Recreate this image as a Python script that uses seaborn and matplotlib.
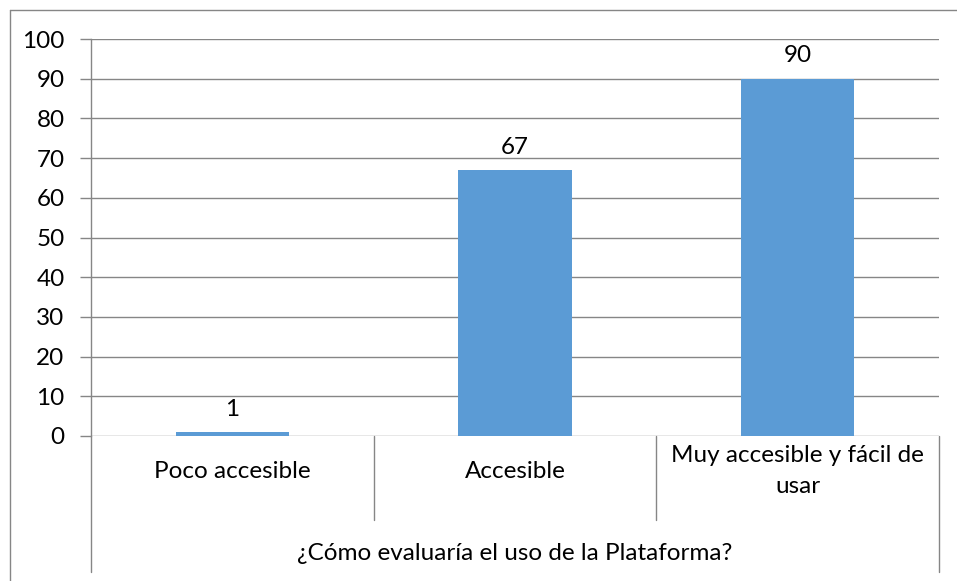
import matplotlib
matplotlib.use("Agg")
import matplotlib.pyplot as plt
import seaborn as sns
import pandas as pd
from matplotlib.lines import Line2D

categories = ["Poco accesible", "Accesible", "Muy accesible y fácil de\nusar"]
values = [1, 67, 90]
group_label = "¿Cómo evaluaría el uso de la Plataforma?"
yticks = [0, 10, 20, 30, 40, 50, 60, 70, 80, 90, 100]

sns.set_theme(style="white")
plt.rcParams["font.family"] = ["Lato", "DejaVu Sans"]

FS = 17.5
W, H = 957, 581
fig = plt.figure(figsize=(W / 100, H / 100), dpi=100)
L, R, T, B = 91, 939, 39, 436
ax = fig.add_axes([L / W, (H - B) / H, (R - L) / W, (B - T) / H])

df = pd.DataFrame({"cat": categories, "val": values})
sns.barplot(data=df, x="cat", y="val", color="#5B9BD5", width=0.4,
            saturation=1, ax=ax, zorder=3, linewidth=0)

grid_c = "#868686"
ax.set_ylim(0, 100)
ax.set_xlim(-0.5, 2.5)
ax.set_yticks(yticks)
ax.set_yticklabels([str(t) for t in yticks], fontsize=FS, color="black")
ax.yaxis.grid(True, color=grid_c, linewidth=1.0, zorder=0)
ax.set_axisbelow(True)
ax.tick_params(axis="y", length=8, width=1, color=grid_c, pad=11, left=True)
ax.set_xticks([])
ax.set_xlabel("")
ax.set_ylabel("")
for s in ["top", "right", "bottom"]:
    ax.spines[s].set_visible(False)
ax.spines["left"].set_color(grid_c)
ax.spines["left"].set_linewidth(1.0)

# data labels
for i, v in enumerate(values):
    ax.annotate(str(v), (i, v), xytext=(0, 9), textcoords="offset points",
                ha="center", va="bottom", fontsize=FS, color="black")

ph = B - T
tr = ax.get_xaxis_transform()
# category labels
for i, c in enumerate(categories):
    ax.text(i, -(471 - B) / ph, c, transform=tr, ha="center", va="center",
            fontsize=FS, color="black", linespacing=1.6)
ax.text(1, -(553 - B) / ph, group_label, transform=tr, ha="center",
        va="center", fontsize=FS, color="black")

# multi-level axis lines
low = -(572 - B) / ph
mid = -(520 - B) / ph
for x, y0 in [(-0.5, low), (0.5, mid), (1.5, mid), (2.5, low)]:
    ax.add_line(Line2D([x, x], [0, y0], transform=tr, color=grid_c,
                       linewidth=1.0, clip_on=False))

# outer chart border (partially cropped)
fig.add_artist(Line2D([9.5 / W, 9.5 / W], [0, 1 - 9.5 / H], color=grid_c,
                      linewidth=1.0, transform=fig.transFigure))
fig.add_artist(Line2D([9.5 / W, 1], [1 - 9.5 / H, 1 - 9.5 / H], color=grid_c,
                      linewidth=1.0, transform=fig.transFigure))

fig.savefig("out.png", dpi=100, facecolor="white")
